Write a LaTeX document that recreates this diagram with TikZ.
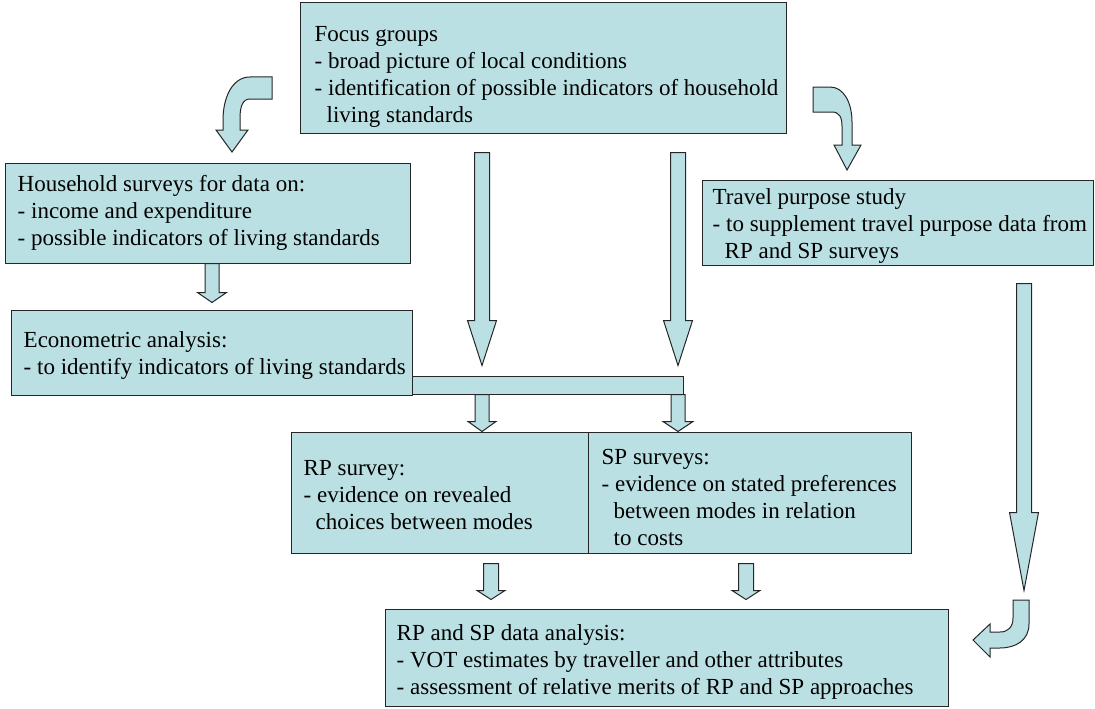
\documentclass[tikz,border=0pt]{standalone}
\usepackage{fontspec}
\setmainfont{Liberation Serif}
\usetikzlibrary{positioning,calc}
\definecolor{boxfill}{HTML}{BBE0E3}
\tikzset{
  box/.style={draw=black!85, fill=boxfill, line width=1pt, inner sep=0pt},
  txt/.style={align=left, inner sep=0pt, font=\fontsize{23}{27}\selectfont},
  fatarrow/.style={draw=black!85, fill=boxfill, line width=1pt, line join=miter}
}
% straight block arrow: x, from, gap, to, gap, shaft half, head half, head length
\newcommand{\fatdown}[8]{%
  \path[fatarrow] let \p1=(#2), \p2=(#4) in
    (#1pt-#6pt,\y1-#3pt) -- (#1pt+#6pt,\y1-#3pt) -- (#1pt+#6pt,\y2+#5pt+#8pt)
    -- (#1pt+#7pt,\y2+#5pt+#8pt) -- (#1pt,\y2+#5pt) -- (#1pt-#7pt,\y2+#5pt+#8pt)
    -- (#1pt-#6pt,\y2+#5pt+#8pt) -- cycle;}
\begin{document}
\begin{tikzpicture}[x=1pt,y=-1pt]
\useasboundingbox (0,0) rectangle (1095,709);
% boxes
\node[box, minimum width=486pt, minimum height=130pt] (focus) at (543,68) {};
\node[box, minimum width=405pt, minimum height=100pt] (house) at (207.5,213) {};
\node[box, minimum width=391pt, minimum height=85pt] (travel) at (897.5,222.5) {};
\node[box, minimum width=401pt, minimum height=85pt] (econ) at (211.5,352.5) {};
\node[box, minimum width=271pt, minimum height=18pt] (bar) at (547.5,385) {};
\node[box, minimum width=297pt, minimum height=121pt] (rp) at (439.5,492.5) {};
\node[box, minimum width=323pt, minimum height=121pt] (sp) at (749.5,492.5) {};
\node[box, minimum width=563pt, minimum height=97pt] (result) at (666.5,657.5) {};
% texts
\node[txt, right=15pt of focus.west, yshift=-8.5pt] (focustxt) {Focus groups\\- broad picture of local conditions\\- identification of possible indicators of household\\\hspace*{12pt}living standards};
\node[txt, right=13pt of house.west] (housetxt) {Household surveys for data on:\\- income and expenditure\\- possible indicators of living standards};
\node[txt, right=11pt of travel.west, yshift=-3.5pt] (traveltxt) {Travel purpose study\\- to supplement travel purpose data from\\\hspace*{12pt}RP and SP surveys};
\node[txt, right=13pt of econ.west, yshift=-2.5pt] (econtxt) {Econometric analysis:\\- to identify indicators of living standards};
\node[txt, right=13pt of rp.west, yshift=-2.5pt] (rptxt) {RP survey:\\- evidence on revealed\\\hspace*{12pt}choices between modes};
\node[txt, right=14pt of sp.west, yshift=-5pt] (sptxt) {SP surveys:\\- evidence on stated preferences\\\hspace*{12pt}between modes in relation\\\hspace*{12pt}to costs};
\node[txt, right=12pt of result.west, yshift=-4.5pt] (resulttxt) {RP and SP data analysis:\\- VOT estimates by traveller and other attributes\\- assessment of relative merits of RP and SP approaches};
% straight arrows
\fatdown{482}{focus.south}{19}{bar.north}{10}{7.5}{14.5}{45}
\fatdown{678}{focus.south}{19}{bar.north}{10}{7.5}{14.5}{45}
\fatdown{212}{house.south}{0}{econ.north}{7}{7}{14.5}{10}
\fatdown{482}{bar.south}{0}{rp.north}{0}{7}{14}{10}
\fatdown{678}{bar.south}{0}{sp.north}{0}{7}{15}{10}
\fatdown{491}{rp.south}{10}{result.north}{9}{7.5}{14}{9}
\fatdown{746}{sp.south}{10}{result.north}{9}{7.5}{14}{9}
\fatdown{1024}{travel.south}{18}{result.north}{18}{7.5}{14.5}{78}
% curved arrows
\draw[fatarrow] (272,77) -- (250,77) .. controls (232,77) and (223,98) .. (223,120)
  -- (223,130) -- (216,130) -- (232,152) -- (248,130) -- (240,130) -- (240,118)
  .. controls (240,106) and (243,99) .. (250,99) -- (272,99) -- cycle;
\draw[fatarrow] (813,87) -- (830,87) .. controls (844,87) and (852,103) .. (852,122)
  -- (852,145) -- (861,145) -- (847,170) -- (834,145) -- (842,145) -- (842,126)
  .. controls (842,117) and (839,112) .. (832,112) -- (813,112) -- cycle;
\draw[fatarrow] (1013,600) -- (1029,600) -- (1029,624) .. controls (1029,640) and (1016,648) .. (1000,648)
  -- (990,648) -- (990,657) -- (973,640) -- (990,624) -- (990,632) -- (1000,632)
  .. controls (1008,632) and (1013,627) .. (1013,618) -- cycle;
\end{tikzpicture}
\end{document}
